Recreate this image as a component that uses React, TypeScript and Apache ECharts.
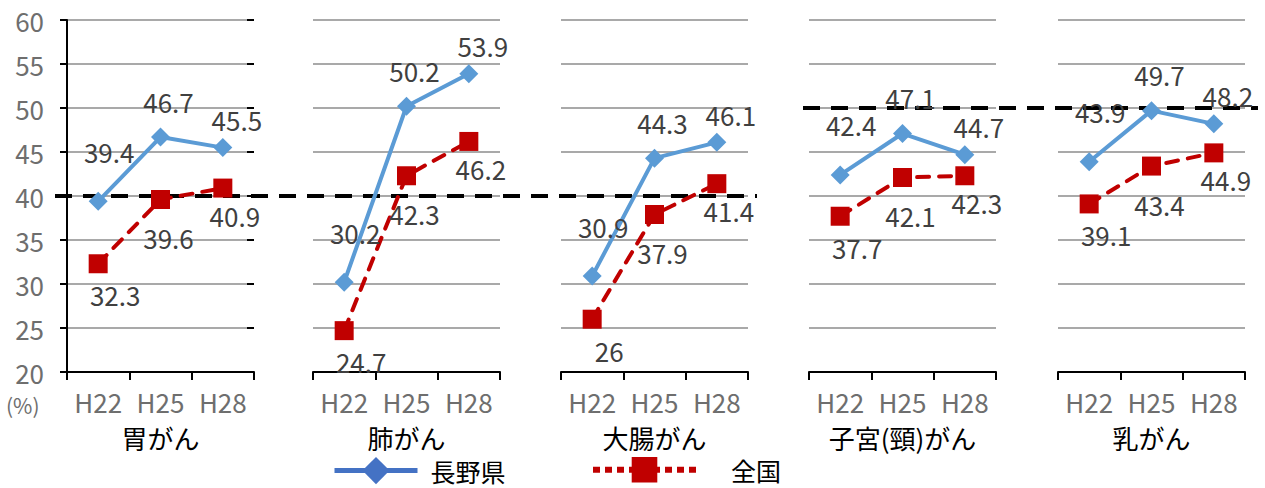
import React, { useEffect, useRef } from 'react';
import * as echarts from 'echarts';

// ---- data ----
const categories = ['H22', 'H25', 'H28'];
const cancerTypes = ['胃がん', '肺がん', '大腸がん', '子宮(頸)がん', '乳がん'];
const naganoName = '長野県';
const nationalName = '全国';
const naganoStomach = [39.4, 46.7, 45.5];
const naganoLung = [30.2, 50.2, 53.9];
const naganoColon = [30.9, 44.3, 46.1];
const naganoCervix = [42.4, 47.1, 44.7];
const naganoBreast = [43.9, 49.7, 48.2];
const nationalStomach = [32.3, 39.6, 40.9];
const nationalLung = [24.7, 42.3, 46.2];
const nationalColon = [26, 37.9, 41.4];
const nationalCervix = [37.7, 42.1, 42.3];
const nationalBreast = [39.1, 43.4, 44.9];
const targetA = 40; // 胃・肺・大腸
const targetB = 50; // 子宮・乳
const yMin = 20;
const yMax = 60;
const yInterval = 5;

const naganoValues = [naganoStomach, naganoLung, naganoColon, naganoCervix, naganoBreast];
const nationalValues = [nationalStomach, nationalLung, nationalColon, nationalCervix, nationalBreast];

// ---- layout / style ----
const FONT = "'Noto Sans CJK JP', 'Noto Sans', sans-serif";
const panelLefts = [67, 313, 561, 809, 1058];
const panelWidth = 187;
const gridTop = 20;
const gridHeight = 352;
const naganoLabelOffsets = [[11, -50], [8, -36], [14, -28]];
const nationalLabelOffsets = [[17, 31], [8, 38], [12, 27]];
const BLUE = '#5B9BD5';
const RED = '#C00000';
const DATA_LABEL = '#404040';
const AXIS_LABEL = '#6E6E6E';
const NUM_SIZE = 26;

function buildOption() {
  const grid: any[] = panelLefts.map((left) => ({ left, width: panelWidth, top: gridTop, height: gridHeight }));
  grid.push({ left: 55, width: 702, top: gridTop, height: gridHeight });
  grid.push({ left: 803, width: 455, top: gridTop, height: gridHeight });

  const xAxis: any[] = cancerTypes.map((name, i) => ({
    type: 'category',
    gridIndex: i,
    data: categories,
    axisLine: { show: true, lineStyle: { color: '#000', width: 2 } },
    axisTick: { show: true, length: 8, lineStyle: { color: '#000', width: 2 } },
    axisLabel: { color: AXIS_LABEL, fontSize: NUM_SIZE, margin: 16, fontFamily: FONT },
    name,
    nameLocation: 'middle',
    nameGap: 52,
    nameTextStyle: { color: '#000', fontSize: 26, fontFamily: FONT },
  }));
  xAxis.push({ type: 'value', gridIndex: 5, min: 0, max: 1, show: false });
  xAxis.push({ type: 'value', gridIndex: 6, min: 0, max: 1, show: false });

  const yAxis: any[] = cancerTypes.map((_, i) => ({
    type: 'value',
    gridIndex: i,
    min: yMin,
    max: yMax,
    interval: yInterval,
    axisLine: { show: i === 0, lineStyle: { color: '#000', width: 2 } },
    axisTick: { show: i === 0, length: 7, lineStyle: { color: '#000', width: 2 } },
    axisLabel: { show: i === 0, color: AXIS_LABEL, fontSize: NUM_SIZE, margin: 23, fontFamily: FONT },
    splitLine: { show: true, lineStyle: { color: '#A9A9A9', width: 2 } },
  }));
  yAxis.push({ type: 'value', gridIndex: 5, min: yMin, max: yMax, show: false });
  yAxis.push({ type: 'value', gridIndex: 6, min: yMin, max: yMax, show: false });
  // inner half of the crossing ticks on the first panel
  yAxis.push({
    type: 'value',
    gridIndex: 0,
    min: yMin,
    max: yMax,
    interval: yInterval,
    axisLine: { show: false },
    axisTick: { show: true, inside: true, length: 7, lineStyle: { color: '#000', width: 2 } },
    axisLabel: { show: false },
    splitLine: { show: false },
  });

  const series: any[] = [];
  const labelBase = { show: true, position: 'inside', color: DATA_LABEL, fontSize: NUM_SIZE, fontFamily: FONT };
  cancerTypes.forEach((_, i) => {
    series.push({
      type: 'line',
      name: naganoName,
      xAxisIndex: i,
      yAxisIndex: i,
      data: naganoValues[i].map((v, j) => ({ value: v, label: { offset: naganoLabelOffsets[j] } })),
      symbol: 'diamond',
      symbolSize: 19,
      lineStyle: { color: BLUE, width: 4 },
      itemStyle: { color: BLUE },
      label: labelBase,
      z: 4,
    });
    series.push({
      type: 'line',
      name: nationalName,
      xAxisIndex: i,
      yAxisIndex: i,
      data: nationalValues[i].map((v, j) => ({ value: v, label: { offset: nationalLabelOffsets[j] } })),
      symbol: 'rect',
      symbolSize: 19,
      lineStyle: { color: RED, width: 4, type: [12, 10], cap: 'round' },
      itemStyle: { color: RED },
      label: labelBase,
      z: 4,
    });
  });
  [targetA, targetB].forEach((t, k) => {
    series.push({
      type: 'line',
      name: 'target' + k,
      xAxisIndex: 5 + k,
      yAxisIndex: 5 + k,
      data: [[0, t], [1, t]],
      symbol: 'none',
      lineStyle: { color: '#000', width: 4, type: [17, 11] },
      silent: true,
      z: 3,
    });
  });

  return {
    animation: false,
    backgroundColor: '#fff',
    textStyle: { fontFamily: FONT },
    grid,
    xAxis,
    yAxis,
    series,
    legend: [
      {
        data: [naganoName],
        itemStyle: { color: '#4472C4' },
        lineStyle: { color: '#4472C4', width: 5, type: 'solid', cap: 'butt' },
        left: 332,
        top: 457,
        padding: 0,
        itemWidth: 83,
        itemHeight: 34,
        selectedMode: false,
        textStyle: { fontSize: 25, color: '#000', fontFamily: FONT, padding: [0, 0, 0, 8] },
      },
      {
        data: [nationalName],
        itemStyle: { color: RED },
        lineStyle: { color: RED, width: 6, type: [7, 5], cap: 'butt' },
        left: 590,
        top: 457,
        padding: 0,
        itemWidth: 103,
        itemHeight: 32,
        selectedMode: false,
        textStyle: { fontSize: 25, color: '#000', fontFamily: FONT, padding: [0, 0, 0, 30] },
      },
    ],
    graphic: [
      {
        type: 'text',
        left: 6,
        top: 394,
        style: { text: '(%)', fill: AXIS_LABEL, fontSize: 21, fontFamily: FONT },
      },
    ],
  };
}

export default function App() {
  const ref = useRef<HTMLDivElement>(null);
  useEffect(() => {
    const chart = echarts.init(ref.current as HTMLDivElement, null, { renderer: 'svg' });
    chart.setOption(buildOption() as any);
    return () => chart.dispose();
  }, []);
  return (
    <div
      ref={ref}
      style={{ position: 'fixed', left: 0, top: 0, width: 1265, height: 488, background: '#fff' }}
    />
  );
}
